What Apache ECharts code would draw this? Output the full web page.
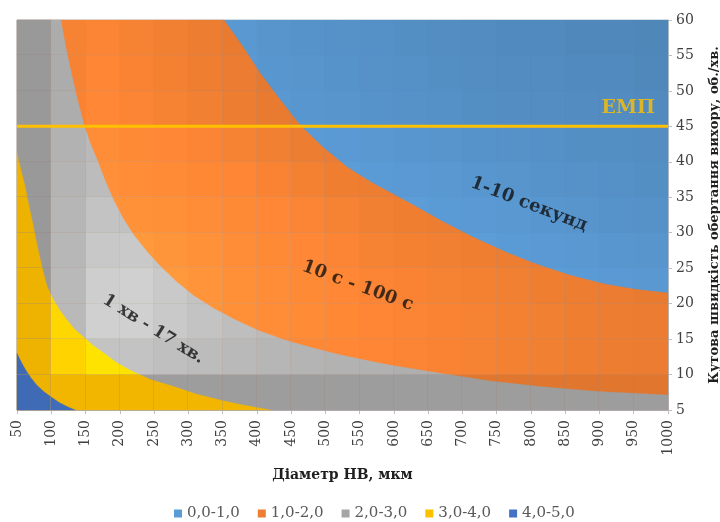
<!DOCTYPE html>
<html>
<head>
<meta charset="utf-8">
<script src="https://cdn.jsdelivr.net/npm/echarts@6/dist/echarts.min.js"></script>
<style>
    html, body { margin: 0; padding: 0; background: #ffffff; }
    #chart { width: 720px; height: 522px; }
</style>
</head>
<body>
<div id="chart"></div>
<script>
// Назви та кольори діапазонів (лог. шкала часу)
const bandNames = ['0,0-1,0', '1,0-2,0', '2,0-3,0', '3,0-4,0', '4,0-5,0'];
const bandColors = ['#5B9BD5', '#ED7D31', '#A5A5A5', '#FFC000', '#4472C4'];

// Межі діапазонів [діаметр, швидкість]
const topEdge = [[50, 60], [1000, 60]];
const level1Edge = [[50, 60], [352, 60], [380, 56.2], [405, 52.5], [432, 49], [463, 45.2], [495, 42.2], [531, 39.3],
    [569, 37.0], [619, 34.4], [667, 31.8], [715, 29.4], [765, 27.2], [813, 25.4], [861, 23.9], [911, 22.7],
    [955, 22.0], [1000, 21.5]];
const level2Edge = [[50, 60], [114, 60], [122, 55.8], [130, 52.2], [139, 48.5], [148, 45.2], [157, 42.6], [167, 40.3],
    [178, 37.5], [191, 34.6], [205, 32.0], [221, 29.6], [240, 27.3], [259, 25.3], [283, 23.1], [308, 21.1],
    [336, 19.4], [367, 17.8], [400, 16.3], [440, 14.9], [480, 13.8], [521, 12.8], [590, 11.4], [667, 10.2],
    [740, 9.1], [813, 8.3], [900, 7.6], [1000, 7.1]];
const level3Edge = [[50, 41.2], [56, 38.8], [62, 36.5], [67, 34.0], [72, 31.8], [77, 29.4], [82, 27.1], [88, 24.6],
    [94, 22.4], [104, 20.4], [113, 19.0], [123, 17.7], [134, 16.4], [147, 15.3], [161, 14.1], [177, 13.0],
    [195, 11.7], [215, 10.6], [245, 9.3], [279, 8.3], [310, 7.3], [342, 6.5], [380, 5.7], [420, 5]];
const level4Edge = [[50, 13.0], [55, 12.0], [60, 11.1], [65, 10.3], [70, 9.6], [79, 8.5], [89, 7.6], [99, 6.9],
    [111, 6.1], [123, 5.5], [135, 5]];

// Лінія ЕМП
const empLevel = 45;

// Підписи зон
const noteTexts = ['1-10 секунд', '10 с - 100 с', '1 хв - 17 хв.'];
const noteX = [797, 547, 249];
const noteY = [34.0, 22.5, 16.4];
const noteAngle = [-21, -20, -32];

// Освітлення комірок поверхні (рядки зверху вниз)
const shadeColumns = [50, 100, 150, 200, 250, 300, 350, 400, 450, 500, 550, 600, 650, 700, 750, 800, 850, 900, 950];
const shadeRows = [55, 50, 45, 40, 35, 30, 25, 20, 15, 10, 5];
const cellShade = [
    [0.93, 1.04, 1.06, 1.04, 1.02, 1.00, 0.98, 0.96, 0.95, 0.94, 0.93, 0.92, 0.91, 0.90, 0.89, 0.89, 0.88, 0.88, 0.87],
    [0.93, 1.04, 1.07, 1.05, 1.03, 1.01, 0.99, 0.97, 0.96, 0.95, 0.94, 0.93, 0.92, 0.91, 0.90, 0.90, 0.89, 0.89, 0.88],
    [0.93, 1.05, 1.08, 1.06, 1.04, 1.02, 1.00, 0.98, 0.97, 0.96, 0.95, 0.94, 0.93, 0.92, 0.91, 0.91, 0.90, 0.90, 0.89],
    [0.93, 1.08, 1.12, 1.10, 1.08, 1.06, 1.04, 1.02, 1.00, 0.99, 0.98, 0.97, 0.96, 0.95, 0.94, 0.93, 0.92, 0.92, 0.91],
    [0.93, 1.09, 1.14, 1.13, 1.11, 1.09, 1.07, 1.05, 1.03, 1.01, 1.00, 0.99, 0.98, 0.97, 0.96, 0.95, 0.94, 0.93, 0.92],
    [0.93, 1.10, 1.18, 1.17, 1.15, 1.12, 1.10, 1.08, 1.06, 1.04, 1.02, 1.01, 1.00, 0.99, 0.98, 0.97, 0.96, 0.95, 0.94],
    [0.93, 1.11, 1.21, 1.22, 1.19, 1.16, 1.13, 1.10, 1.08, 1.06, 1.04, 1.03, 1.02, 1.01, 1.00, 0.99, 0.98, 0.97, 0.96],
    [0.93, 1.12, 1.25, 1.26, 1.22, 1.18, 1.15, 1.12, 1.10, 1.08, 1.06, 1.05, 1.04, 1.03, 1.02, 1.01, 1.00, 0.99, 0.98],
    [0.93, 1.12, 1.26, 1.26, 1.22, 1.18, 1.15, 1.13, 1.11, 1.09, 1.07, 1.06, 1.05, 1.04, 1.03, 1.02, 1.01, 1.00, 0.99],
    [0.93, 1.10, 1.18, 1.18, 1.16, 1.14, 1.12, 1.10, 1.09, 1.08, 1.07, 1.06, 1.05, 1.04, 1.03, 1.02, 1.01, 1.00, 0.99],
    [0.93, 0.95, 0.95, 0.95, 0.95, 0.95, 0.95, 0.95, 0.95, 0.95, 0.95, 0.95, 0.95, 0.95, 0.95, 0.95, 0.95, 0.95, 0.95]
];

const fontName = '"DejaVu Serif", "Liberation Serif", serif';

// колір зони з урахуванням освітлення комірки
function shadeColor(hex, f) {
    const n = parseInt(hex.slice(1), 16);
    const ch = [(n >> 16) & 255, (n >> 8) & 255, n & 255].map(v => Math.min(255, Math.round(v * f)));
    return 'rgb(' + ch.join(',') + ')';
}

// обрізання многокутника прямокутником (Сазерленд-Ходжмен)
function clipToRect(pts, x1, x2, y1, y2) {
    const sides = [
        [p => p[0] >= x1, (a, b) => [x1, a[1] + (b[1] - a[1]) * (x1 - a[0]) / (b[0] - a[0])]],
        [p => p[0] <= x2, (a, b) => [x2, a[1] + (b[1] - a[1]) * (x2 - a[0]) / (b[0] - a[0])]],
        [p => p[1] >= y1, (a, b) => [a[0] + (b[0] - a[0]) * (y1 - a[1]) / (b[1] - a[1]), y1]],
        [p => p[1] <= y2, (a, b) => [a[0] + (b[0] - a[0]) * (y2 - a[1]) / (b[1] - a[1]), y2]]
    ];
    let out = pts;
    for (const [inside, cross] of sides) {
        const input = out;
        out = [];
        for (let i = 0; i < input.length; i++) {
            const cur = input[i];
            const prev = input[(i + input.length - 1) % input.length];
            const cIn = inside(cur), pIn = inside(prev);
            if (cIn) {
                if (!pIn) out.push(cross(prev, cur));
                out.push(cur);
            } else if (pIn) {
                out.push(cross(prev, cur));
            }
        }
        if (!out.length) break;
    }
    return out;
}

function createContourChart() {
    const chartDom = document.getElementById('chart');
    const chart = echarts.init(chartDom, null, { renderer: 'canvas' });

    const edges = [topEdge, level1Edge, level2Edge, level3Edge, level4Edge];
    const cellW = shadeColumns[1] - shadeColumns[0];
    const cellH = shadeRows[0] - shadeRows[1];
    const yMin = 5;

    // зони: кожна заливається від своєї межі до низу осі (основа + легенда)
    const bandSeries = edges.map((edge, i) => ({
        name: bandNames[i],
        type: 'line',
        data: edge,
        z: 2,
        silent: true,
        symbol: 'none',
        smooth: false,
        lineStyle: { width: 0 },
        itemStyle: { color: bandColors[i] },
        areaStyle: { color: bandColors[i], opacity: 1 }
    }));

    // комірки поверхні з тінню: частини кожної зони в межах комірки
    const cellData = [];
    cellShade.forEach((row, r) => {
        row.forEach((f, c) => {
            cellData.push([shadeColumns[c], shadeRows[r], f]);
        });
    });

    const shadeSeries = {
        type: 'custom',
        z: 3,
        silent: true,
        data: cellData,
        encode: { x: 0, y: 1 },
        renderItem: function (params, api) {
            const x0 = api.value(0), y0 = api.value(1), f = api.value(2);
            const p0 = api.coord([x0, y0 + cellH]);
            const p1 = api.coord([x0 + cellW, y0]);
            const left = Math.round(p0[0]), right = Math.round(p1[0]);
            const top = Math.round(p0[1]), bottom = Math.round(p1[1]);
            const children = [];
            edges.forEach((edge, i) => {
                const poly = edge.map(p => api.coord(p));
                poly.push(api.coord([edge[edge.length - 1][0], yMin]));
                poly.push(api.coord([edge[0][0], yMin]));
                const piece = clipToRect(poly, left, right, top, bottom);
                if (piece.length >= 3) {
                    const color = shadeColor(bandColors[i], f);
                    children.push({
                        type: 'polygon',
                        shape: { points: piece },
                        style: { fill: color, stroke: color, lineWidth: 0.3 }
                    });
                }
            });
            return { type: 'group', children: children };
        }
    };

    const empSeries = {
        name: 'ЕМП',
        type: 'line',
        z: 4,
        silent: true,
        symbol: 'none',
        data: [[50, empLevel], [1000, empLevel]],
        lineStyle: { color: '#FFC000', width: 3 }
    };

    const noteData = noteTexts.map((t, i) => ({
        value: [noteX[i], noteY[i]],
        label: { formatter: t, rotate: noteAngle[i] }
    }));
    noteData[2].label.fontSize = 17;
    noteData.push({
        value: [1000, empLevel],
        label: {
            formatter: 'ЕМП',
            position: 'insideBottomRight',
            offset: [-8, -4],
            color: '#FFC000',
            fontSize: 19,
            fontWeight: 'bold'
        }
    });

    const noteSeries = {
        type: 'scatter',
        z: 5,
        silent: true,
        symbolSize: 0,
        data: noteData,
        label: {
            show: true,
            position: 'inside',
            color: '#111111',
            fontSize: 18,
            fontWeight: 'bold',
            fontFamily: fontName
        }
    };

    const option = {
        animation: false,
        backgroundColor: '#ffffff',
        grid: {
            left: 17, right: 52, top: 20, bottom: 112,
            containLabel: false,
            outerBoundsMode: 'none',
            show: true, borderColor: '#D9D9D9', borderWidth: 1, backgroundColor: 'transparent'
        },
        legend: {
            data: bandNames,
            left: 174,
            top: 506,
            padding: 0,
            icon: 'rect',
            itemWidth: 8,
            itemHeight: 8,
            itemGap: 18,
            selectedMode: false,
            textStyle: { fontFamily: fontName, fontSize: 15, color: '#595959' }
        },
        xAxis: {
            type: 'value',
            min: 50,
            max: 1000,
            interval: 50,
            name: 'Діаметр НВ, мкм',
            nameLocation: 'middle',
            nameGap: 58,
            nameTextStyle: { fontFamily: fontName, fontSize: 14, fontWeight: 'bold', color: '#1f1f1f' },
            axisLine: { show: true, lineStyle: { color: '#BFBFBF' } },
            axisTick: { show: true, length: 4, lineStyle: { color: '#BFBFBF' } },
            splitLine: { show: false },
            axisLabel: {
                rotate: 90, margin: 10, fontFamily: fontName, fontSize: 14, color: '#404040',
                formatter: function (v) { return String(v); }
            }
        },
        yAxis: {
            type: 'value',
            position: 'right',
            min: 5,
            max: 60,
            interval: 5,
            name: 'Кутова швидкість обертання вихору, об./хв.',
            nameLocation: 'middle',
            nameGap: 40,
            nameTextStyle: { fontFamily: fontName, fontSize: 13, fontWeight: 'bold', color: '#1f1f1f' },
            axisLine: { show: true, lineStyle: { color: '#BFBFBF' } },
            axisTick: { show: true, length: 4, lineStyle: { color: '#BFBFBF' } },
            splitLine: { show: false },
            axisLabel: { margin: 8, fontFamily: fontName, fontSize: 14, color: '#404040' }
        },
        series: bandSeries.concat([shadeSeries, empSeries, noteSeries])
    };

    chart.setOption(option);

    window.addEventListener('resize', function () {
        chart.resize();
    });
}

createContourChart();
</script>
</body>
</html>
